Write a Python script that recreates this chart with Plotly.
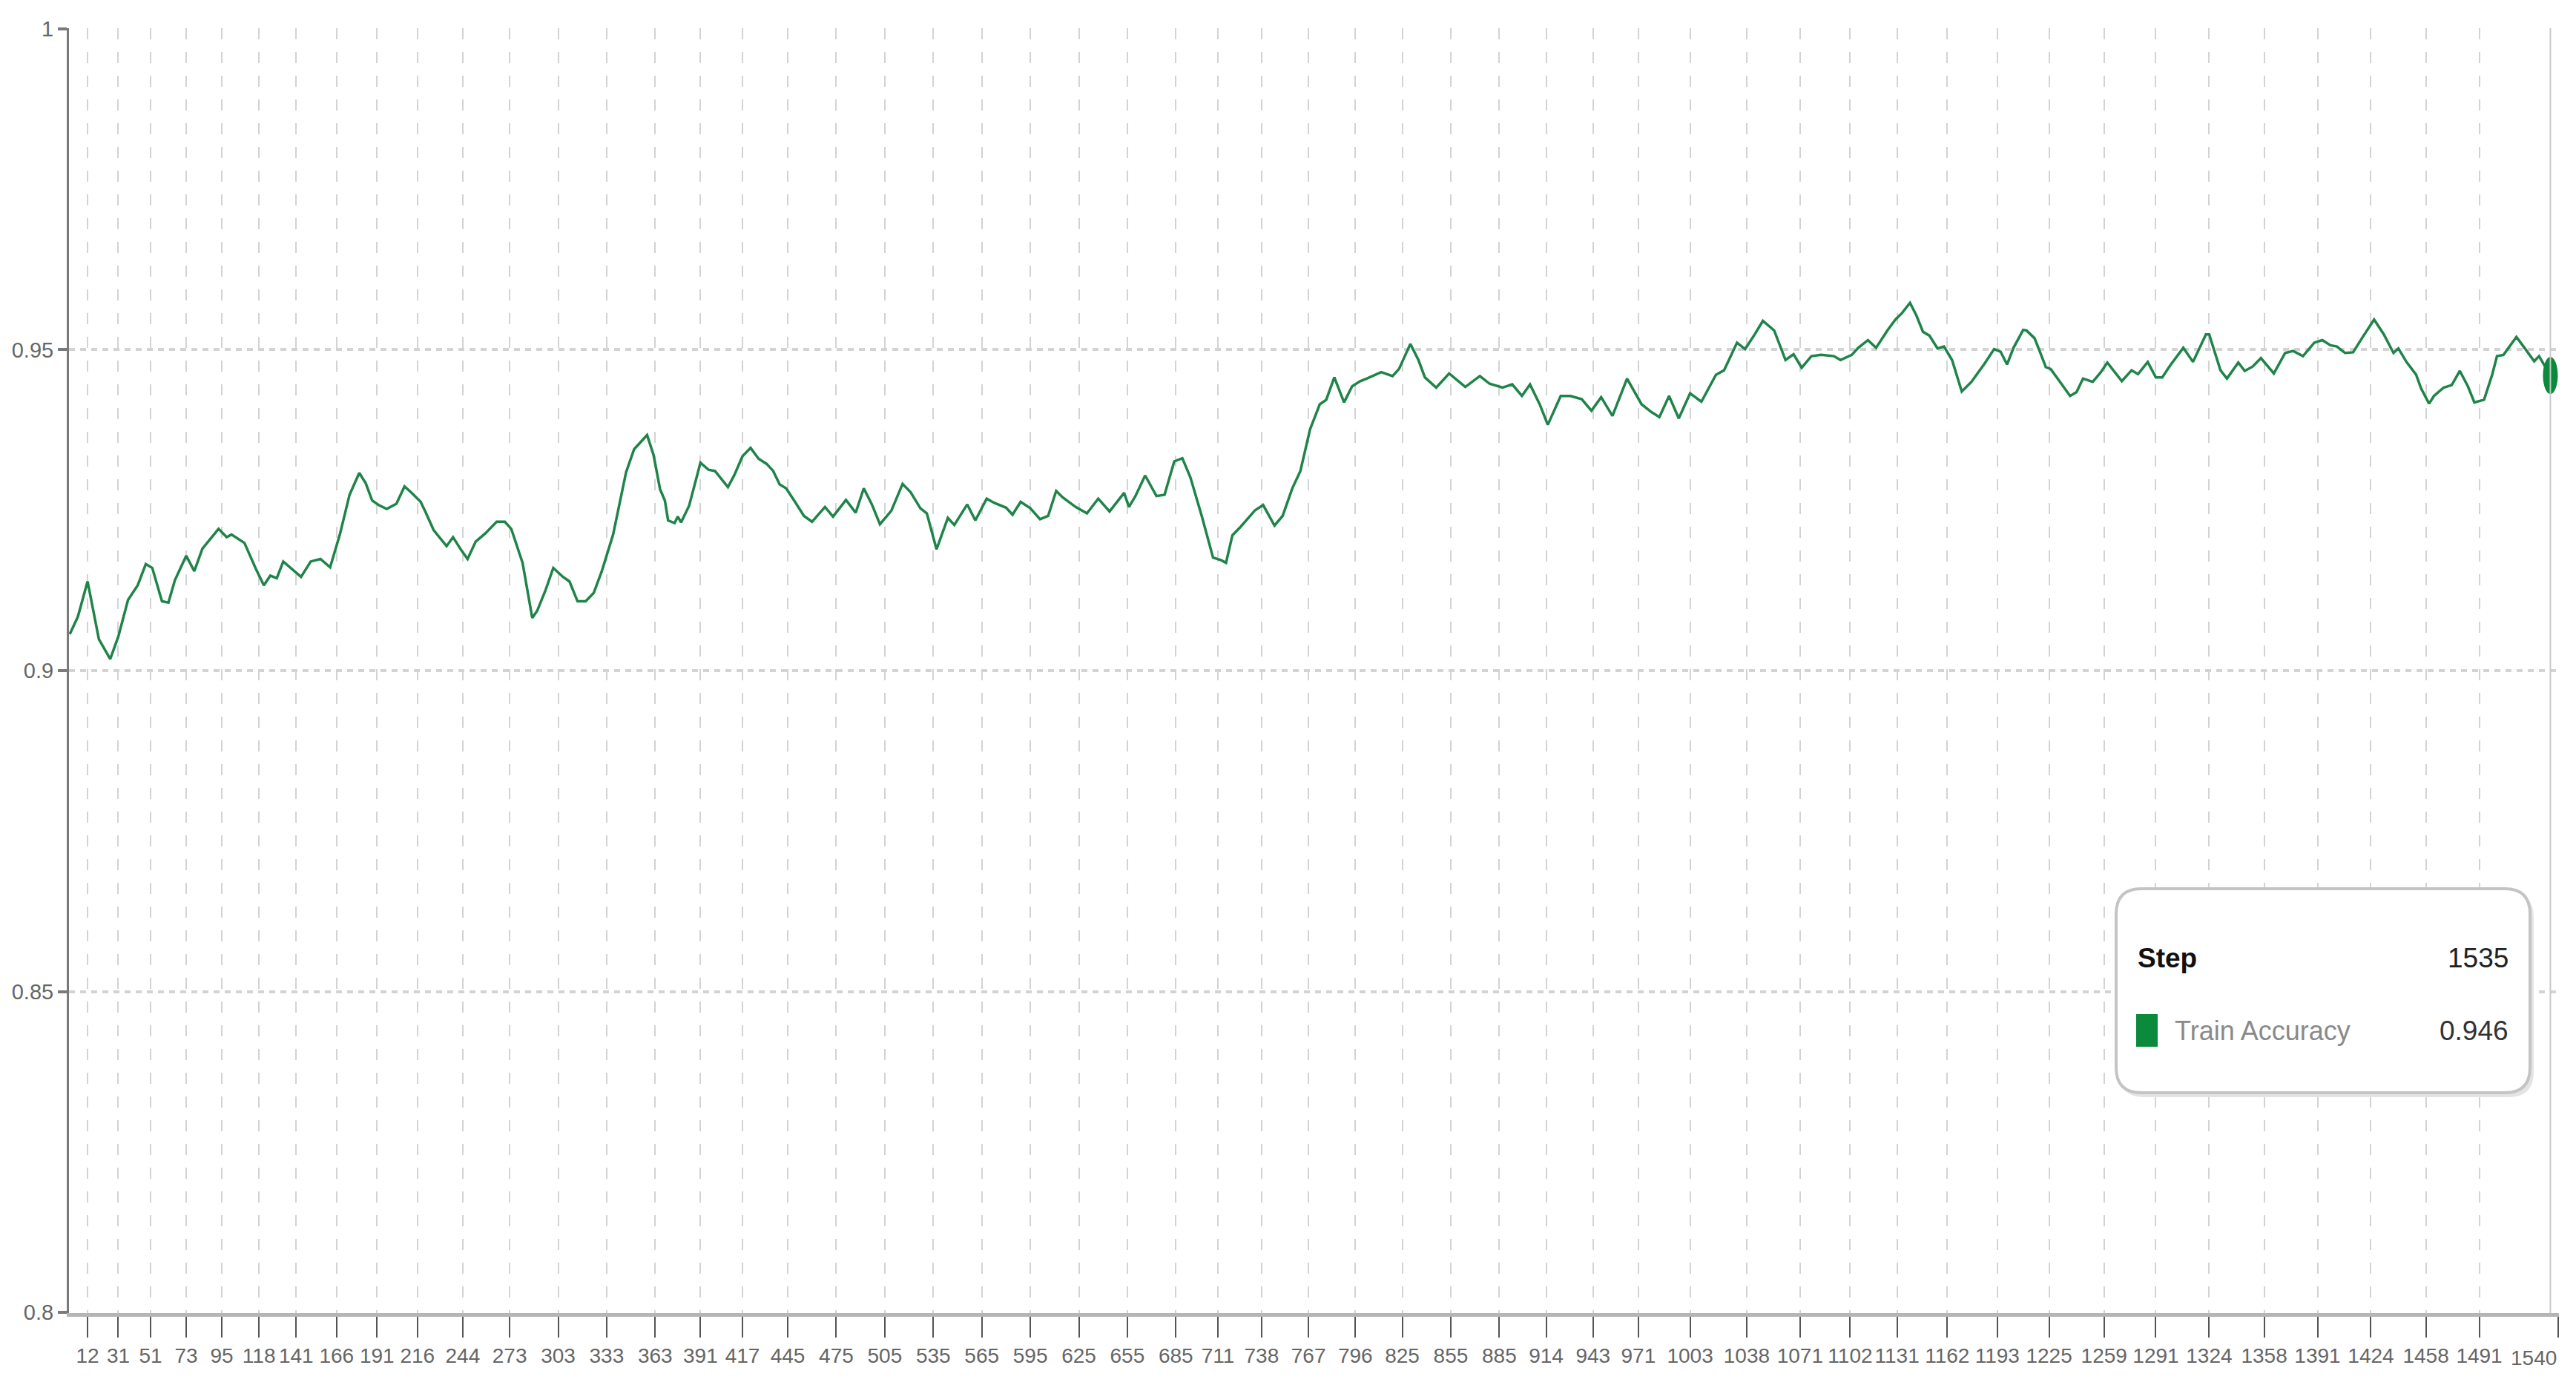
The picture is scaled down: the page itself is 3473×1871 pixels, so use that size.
import plotly.graph_objects as go

# smoothed train accuracy (step, value)
STEPS = [
    1, 6, 12, 19, 26, 31, 37, 43, 48, 52, 58, 62, 66, 73, 78, 83, 93, 98, 101, 109,
    116, 121, 125, 129, 133, 140, 144, 150, 156, 162, 168, 174, 180, 184, 188, 192, 197, 203, 208, 212,
    218, 221, 226, 234, 238, 243, 247, 252, 258, 265, 270, 274, 281, 287, 290, 295, 300, 306, 310, 315,
    320, 325, 330, 337, 345, 350, 358, 362, 366, 369,
    371, 375, 377, 379, 384, 391, 396, 400, 408, 412, 417, 422, 427, 432, 436, 440, 444, 450, 455, 460,
    468, 473, 481, 487, 492, 497, 502, 509, 516, 521, 527, 531, 537, 544, 548, 556, 561, 568, 573, 580,
    584, 589, 595, 601, 606, 611, 615, 623, 630, 637, 644, 653, 656, 660, 666, 673, 678, 684, 689, 694,
    701, 708, 713, 716, 720, 725, 734, 739, 746, 751, 757, 762, 768, 774, 778,
    783, 789, 794, 799, 803, 807, 812, 819, 823, 830, 835, 839, 846, 854, 864, 873, 879, 887, 893, 899,
    904, 910, 915, 923, 929, 936, 942, 948, 955, 964, 973, 979, 984, 990, 996, 1003, 1010, 1019, 1024, 1032,
    1037, 1043, 1048, 1055, 1062, 1067, 1072, 1078, 1084, 1092, 1096, 1103, 1107, 1113, 1118, 1125, 1130, 1134, 1139, 1143,
    1147, 1151, 1156, 1160, 1165, 1171, 1177, 1185, 1191, 1195,
    1199, 1203, 1209, 1211, 1216, 1219, 1223, 1226, 1232, 1238, 1242, 1246, 1252, 1257, 1261, 1265, 1270, 1276, 1280, 1286,
    1291, 1295, 1300, 1308, 1314, 1322, 1324, 1331, 1335, 1342, 1346, 1351, 1356, 1364, 1371, 1376, 1382, 1389, 1394, 1399,
    1403, 1408, 1413, 1419, 1426, 1432, 1438, 1441, 1446, 1452, 1455, 1460, 1463, 1469, 1474, 1479, 1484, 1488, 1494, 1499,
    1502, 1506, 1514, 1519, 1525, 1528, 1535,
]
ACCURACY = [
    0.9057, 0.9084, 0.9139, 0.9049, 0.9018, 0.9053, 0.9110, 0.9133, 0.9166, 0.9160, 0.9108, 0.9106, 0.9141, 0.9179, 0.9155, 0.9190, 0.9221, 0.9208, 0.9212, 0.9199,
    0.9159, 0.9133, 0.9148, 0.9144, 0.9170, 0.9155, 0.9146, 0.9170, 0.9174, 0.9161, 0.9212, 0.9274, 0.9308, 0.9292, 0.9265, 0.9258, 0.9252, 0.9260, 0.9287, 0.9278,
    0.9263, 0.9247, 0.9219, 0.9194, 0.9208, 0.9188, 0.9174, 0.9201, 0.9214, 0.9232, 0.9232, 0.9221, 0.9168, 0.9082, 0.9093, 0.9124, 0.9160, 0.9146, 0.9139, 0.9108,
    0.9108, 0.9121, 0.9155, 0.9212, 0.9309, 0.9345, 0.9367, 0.9336, 0.9283, 0.9265,
    0.9234, 0.9230, 0.9240, 0.9231, 0.9257, 0.9324, 0.9313, 0.9311, 0.9286, 0.9305, 0.9334, 0.9347, 0.9330, 0.9322, 0.9311, 0.9290, 0.9284, 0.9261, 0.9241, 0.9232,
    0.9255, 0.9240, 0.9266, 0.9246, 0.9284, 0.9259, 0.9228, 0.9249, 0.9291, 0.9278, 0.9253, 0.9245, 0.9189, 0.9238, 0.9227, 0.9259, 0.9234, 0.9268, 0.9261, 0.9254,
    0.9243, 0.9263, 0.9253, 0.9236, 0.9241, 0.9280, 0.9270, 0.9255, 0.9245, 0.9268, 0.9248, 0.9277, 0.9255, 0.9272, 0.9304, 0.9272, 0.9274, 0.9326, 0.9331, 0.9301,
    0.9241, 0.9176, 0.9172, 0.9168, 0.9211, 0.9224, 0.9250, 0.9258, 0.9226, 0.9241, 0.9284, 0.9311, 0.9376, 0.9415, 0.9422,
    0.9457, 0.9418, 0.9443, 0.9451, 0.9455, 0.9459, 0.9465, 0.9459, 0.9470, 0.9509, 0.9484, 0.9457, 0.9441, 0.9463, 0.9442, 0.9459, 0.9447, 0.9441, 0.9446, 0.9428,
    0.9446, 0.9415, 0.9383, 0.9428, 0.9428, 0.9423, 0.9405, 0.9426, 0.9397, 0.9455, 0.9415, 0.9403, 0.9395, 0.9428, 0.9393, 0.9432, 0.9419, 0.9461, 0.9468, 0.9511,
    0.9501, 0.9524, 0.9545, 0.9530, 0.9484, 0.9493, 0.9472, 0.9490, 0.9492, 0.9490, 0.9484, 0.9492, 0.9503, 0.9515, 0.9503, 0.9530, 0.9547, 0.9557, 0.9573, 0.9553,
    0.9528, 0.9522, 0.9502, 0.9505, 0.9484, 0.9435, 0.9450, 0.9478, 0.9501, 0.9497,
    0.9477, 0.9503, 0.9531, 0.9530, 0.9518, 0.9499, 0.9473, 0.9470, 0.9449, 0.9428, 0.9434, 0.9455, 0.9450, 0.9465, 0.9480, 0.9467, 0.9451, 0.9468, 0.9462, 0.9481,
    0.9457, 0.9457, 0.9476, 0.9503, 0.9481, 0.9524, 0.9524, 0.9468, 0.9455, 0.9480, 0.9467, 0.9474, 0.9487, 0.9463, 0.9495, 0.9498, 0.9490, 0.9511, 0.9515, 0.9507,
    0.9505, 0.9495, 0.9496, 0.9520, 0.9547, 0.9524, 0.9495, 0.9502, 0.9481, 0.9461, 0.9440, 0.9416, 0.9428, 0.9441, 0.9445, 0.9467, 0.9443, 0.9418, 0.9422, 0.9461,
    0.9490, 0.9492, 0.9520, 0.9503, 0.9482, 0.9490, 0.9460,
]

X_TICKS = [
    12, 31, 51, 73, 95, 118, 141, 166, 191, 216, 244, 273, 303, 333, 363, 391, 417, 445,
    475, 505, 535, 565, 595, 625, 655, 685, 711, 738, 767, 796, 825, 855, 885, 914, 943,
    971, 1003, 1038, 1071, 1102, 1131, 1162, 1193, 1225, 1259, 1291, 1324, 1358, 1391,
    1424, 1458, 1491, 1540,
]
Y_TICKS = [0.8, 0.85, 0.9, 0.95, 1.0]
Y_TICK_LABELS = ["0.8", "0.85", "0.9", "0.95", "1"]

SERIES_NAME = "Train Accuracy"
HOVER_STEP = 1535
HOVER_VALUE = 0.946

PALETTE = {
    "line": "#1f8449",
    "marker": "#0b8a3b",
    "grid": "#d3d3d3",
    "axis": "#7a7a7a",
    "tick_text": "#666666",
    "box_line": "#c4c4c4",
    "box_shadow": "#e4e4e4",
}

FONT = "Liberation Sans, Arial, sans-serif"
TICK_SIZE = 28

# page is 3473x1871, body has an 8px default margin
PAGE_OFF = 8
W, H = 3473 - 2 * PAGE_OFF, 1871 - 2 * PAGE_OFF
MARGIN = dict(l=85, r=15, t=30, b=93)


def to_paper(px, py):
    """page pixel position -> paper coords"""
    pw = W - MARGIN["l"] - MARGIN["r"]
    ph = H - MARGIN["t"] - MARGIN["b"]
    fx, fy = px - PAGE_OFF, py - PAGE_OFF
    return (fx - MARGIN["l"]) / pw, (H - MARGIN["b"] - fy) / ph


def rounded_box(x0, y0, x1, y1, r):
    """rounded rectangle as an SVG path in paper coords (page pixel input)"""
    pw = W - MARGIN["l"] - MARGIN["r"]
    ph = H - MARGIN["t"] - MARGIN["b"]
    ax, ay = to_paper(x0, y1)
    bx, by = to_paper(x1, y0)
    rx, ry = r / pw, r / ph
    return (
        f"M {ax + rx},{by} L {bx - rx},{by} Q {bx},{by} {bx},{by - ry} "
        f"L {bx},{ay + ry} Q {bx},{ay} {bx - rx},{ay} "
        f"L {ax + rx},{ay} Q {ax},{ay} {ax},{ay + ry} "
        f"L {ax},{by - ry} Q {ax},{by} {ax + rx},{by} Z"
    )


# last tick label is drawn right-aligned at the edge (annotation below)
tick_text = [str(t) for t in X_TICKS]
tick_text[-1] = ""

fig = go.Figure()
fig.add_trace(go.Scatter(
    x=STEPS,
    y=ACCURACY,
    mode="lines",
    name=SERIES_NAME,
    line=dict(color=PALETTE["line"], width=3.5),
    showlegend=False,
))

shapes = [
    # hover marker (tall ellipse) and cursor line
    dict(type="circle", xref="x", yref="y",
         xsizemode="pixel", xanchor=HOVER_STEP, x0=-10, x1=10,
         ysizemode="pixel", yanchor=HOVER_VALUE, y0=-25, y1=25,
         fillcolor=PALETTE["marker"], line=dict(width=0)),
    dict(type="line", xref="x", yref="paper", x0=HOVER_STEP, x1=HOVER_STEP, y0=0, y1=1,
         line=dict(color="#c8c8c8", width=2)),
    # tooltip box
    dict(type="path", xref="paper", yref="paper",
         path=rounded_box(2857, 1203, 3416, 1479, 34),
         fillcolor=PALETTE["box_shadow"], line=dict(width=0)),
    dict(type="path", xref="paper", yref="paper",
         path=rounded_box(2853, 1198, 3411, 1473, 34),
         fillcolor="white", line=dict(color=PALETTE["box_line"], width=4)),
]
sx0, sy0 = to_paper(2880, 1411)
sx1, sy1 = to_paper(2909, 1367)
shapes.append(dict(type="rect", xref="paper", yref="paper", x0=sx0, x1=sx1, y0=sy0, y1=sy1,
                   fillcolor=PALETTE["marker"], line=dict(width=0)))

lx, ly1 = to_paper(2880, 1291)
rx, _ = to_paper(3384, 1291)
tx, ly2 = to_paper(2930, 1389)
_, ly_tick = to_paper(0, 1830)
annotations = [
    dict(text="<b>Step</b>", x=lx, y=ly1, xanchor="left", yanchor="middle",
         font=dict(size=37, color="#111111", family=FONT)),
    dict(text=str(HOVER_STEP), x=rx, y=ly1, xanchor="right", yanchor="middle",
         font=dict(size=37, color="#222222", family=FONT)),
    dict(text=SERIES_NAME, x=tx, y=ly2, xanchor="left", yanchor="middle",
         font=dict(size=36, color="#8a8a8a", family=FONT)),
    dict(text=f"{HOVER_VALUE:.3f}", x=rx, y=ly2, xanchor="right", yanchor="middle",
         font=dict(size=37, color="#333333", family=FONT)),
]
for a in annotations:
    a.update(xref="paper", yref="paper", showarrow=False)
annotations.append(dict(
    text=str(X_TICKS[-1]), xref="x", yref="paper", x=X_TICKS[-1], y=ly_tick,
    xanchor="right", yanchor="middle", showarrow=False,
    font=dict(size=TICK_SIZE, color=PALETTE["tick_text"], family=FONT),
))

fig.update_layout(
    width=W,
    height=H,
    autosize=False,
    margin=MARGIN,
    plot_bgcolor="white",
    paper_bgcolor="white",
    font=dict(family=FONT, color=PALETTE["tick_text"]),
    shapes=shapes,
    annotations=annotations,
    xaxis=dict(
        range=[0.5, 1540.3],
        automargin=False,
        tickmode="array",
        tickvals=X_TICKS,
        ticktext=tick_text,
        tickangle=0,
        ticks="outside",
        ticklen=28,
        tickwidth=2,
        tickcolor="#555555",
        tickfont=dict(size=TICK_SIZE, color=PALETTE["tick_text"]),
        showgrid=True,
        gridcolor=PALETTE["grid"],
        gridwidth=2,
        griddash="15px,17px",
        showline=True,
        linecolor="#b5b5b5",
        linewidth=5,
        zeroline=False,
    ),
    yaxis=dict(
        range=[0.7999, 1.0001],
        automargin=False,
        tickmode="array",
        tickvals=Y_TICKS,
        ticktext=Y_TICK_LABELS,
        ticks="outside",
        ticklen=12,
        tickwidth=4,
        tickcolor=PALETTE["axis"],
        tickfont=dict(size=29, color=PALETTE["tick_text"]),
        showgrid=True,
        gridcolor=PALETTE["grid"],
        gridwidth=4,
        griddash="8px,7px",
        showline=True,
        linecolor=PALETTE["axis"],
        linewidth=3,
        zeroline=False,
    ),
)

fig.write_html("out.html")
